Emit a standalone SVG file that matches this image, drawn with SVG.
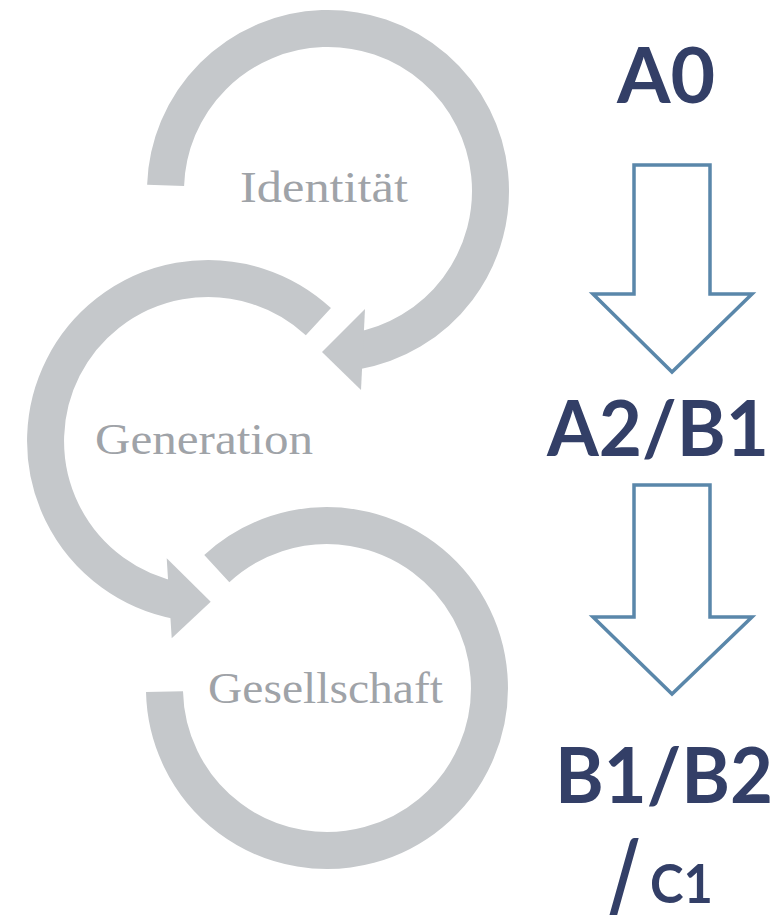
<svg xmlns="http://www.w3.org/2000/svg" width="777" height="915" viewBox="0 0 777 915">
  <style>
    .ring { fill: none; stroke: #C5C8CB; stroke-width: 37; stroke-linecap: butt; }
    .head { fill: #C5C8CB; stroke: none; }
    .lbl { font-family: "Liberation Serif", "DejaVu Serif", serif; font-size: 44px; fill: #9FA3A8; }
    .lvl { font-family: Lato, "Open Sans", "Liberation Sans", sans-serif; font-weight: bold; font-size: 77px; fill: #333F67; }
    .small { font-size: 53px; }
    .blk { fill: #FFFFFF; stroke: #5A87AA; stroke-width: 3.5; stroke-linejoin: miter; }
  </style>
  <rect x="0" y="0" width="777" height="915" fill="#FFFFFF"/>

  <g id="node-identitaet">
    <path class="ring" d="M165.6,185.3 A162.5,162.5 0 1 1 356.2,351.0"/>
    <polygon class="head" points="322,352 365,309 361,390"/>
    <text class="lbl" x="240" y="202" textLength="168" lengthAdjust="spacingAndGlyphs">Identität</text>
  </g>

  <g id="node-generation">
    <path class="ring" d="M318.4,321.7 A162.5,162.5 0 1 0 177.0,600.5"/>
    <polygon class="head" points="210.7,601.7 166.7,558.3 171.7,638.3"/>
    <text class="lbl" x="95" y="454" textLength="218" lengthAdjust="spacingAndGlyphs">Generation</text>
  </g>

  <g id="node-gesellschaft">
    <path class="ring" d="M216.8,568.6 A162.5,162.5 0 1 1 164.5,691.7"/>
    <text class="lbl" x="208" y="703" textLength="235" lengthAdjust="spacingAndGlyphs">Gesellschaft</text>
  </g>

  <g id="node-a0">
    <text class="lvl" x="617" y="103">A0</text>
  </g>
  <g id="node-a2b1">
    <text class="lvl" x="547" y="456" textLength="222" lengthAdjust="spacingAndGlyphs">A2/B1</text>
  </g>
  <g id="node-b1b2c1">
    <text class="lvl" x="555" y="803" textLength="218" lengthAdjust="spacingAndGlyphs">B1/B2</text>
    <text class="lvl" transform="translate(605,918) scale(1,1.4)" x="0" y="0">/</text>
    <text class="lvl small" x="650" y="903" textLength="63" lengthAdjust="spacingAndGlyphs">C1</text>
  </g>

  <g id="connectors">
    <path class="blk" d="M634,165 H710 V294 H752 L672,372 L593,294 H634 Z"/>
    <path class="blk" d="M634,485 H710 V617 H752 L672,694 L593,617 H634 Z"/>
  </g>
</svg>
